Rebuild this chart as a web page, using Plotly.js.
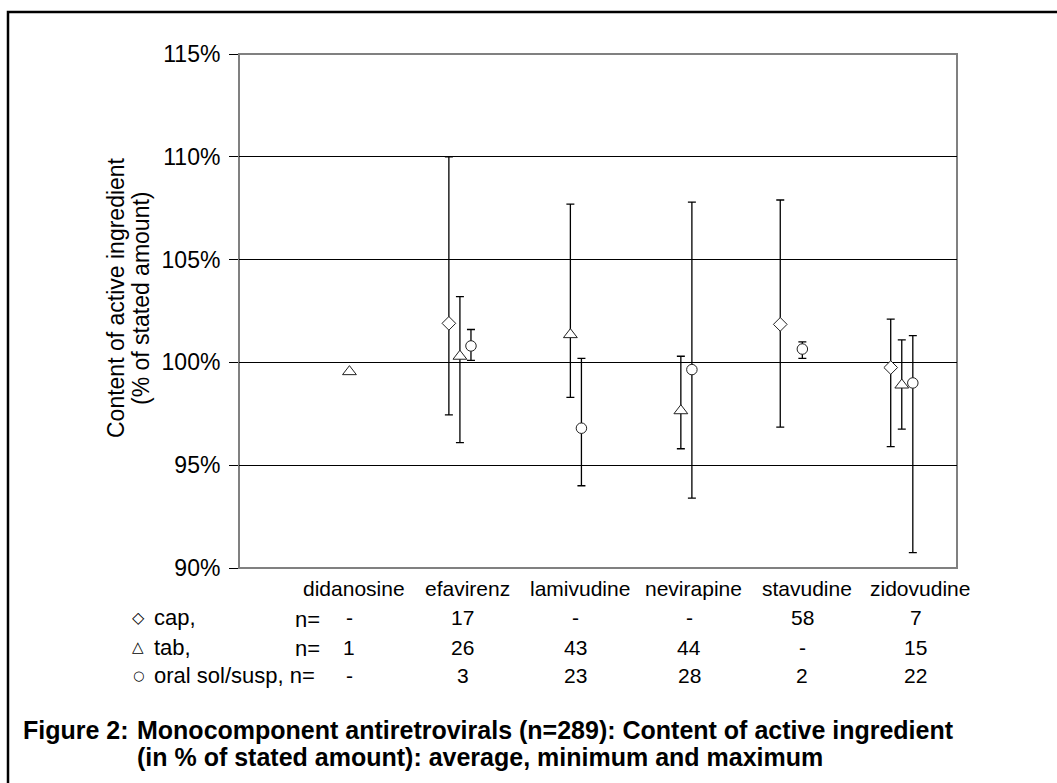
<!DOCTYPE html>
<html>
<head>
<meta charset="utf-8">
<script src="https://cdn.plot.ly/plotly-3.0.1.min.js"></script>
<style>html,body{margin:0;padding:0;background:#fff;}#chart{width:1057px;height:783px;}</style>
</head>
<body>
<div id="chart"></div>
<script>
// ---- data ----
const categories = ['didanosine', 'efavirenz', 'lamivudine', 'nevirapine', 'stavudine', 'zidovudine'];
const capMean  = [null, 101.9, null, null, 101.85, 99.75];
const capMin   = [null, 97.45, null, null, 96.85, 95.9];
const capMax   = [null, 110.0, null, null, 107.9, 102.1];
const tabMean  = [99.55, 100.3, 101.35, 97.65, null, 98.9];
const tabMin   = [99.55, 96.1, 98.3, 95.8, null, 96.75];
const tabMax   = [99.55, 103.2, 107.7, 100.3, null, 101.1];
const oralMean = [null, 100.8, 96.8, 99.65, 100.65, 99.0];
const oralMin  = [null, 100.1, 94.0, 93.4, 100.2, 90.75];
const oralMax  = [null, 101.6, 100.2, 107.8, 101.0, 101.3];
const capN  = ['-', '17', '-', '-', '58', '7'];
const tabN  = ['1', '26', '43', '44', '-', '15'];
const oralN = ['-', '3', '23', '28', '2', '22'];
const yTicks = [90, 95, 100, 105, 110, 115];

// ---- layout geometry ----
const W = 1057, H = 783;
const L = 239, R = 957, T = 54, B = 568;
const px = x => (x - L) / (R - L);
const py = y => (B - y) / (B - T);
const FONT = 'Arial, "Liberation Sans", sans-serif';

function mk(name, mean, mn, mx, offset, symbol, size) {
  return {
    type: 'scatter', mode: 'markers', name: name,
    x: categories.map((c, i) => i + offset), y: mean,
    marker: {symbol: symbol, size: size, color: '#ffffff', line: {color: '#222', width: 1}},
    error_y: {
      type: 'data', symmetric: false,
      array: mean.map((m, i) => m == null ? null : mx[i] - m),
      arrayminus: mean.map((m, i) => m == null ? null : m - mn[i]),
      color: '#000', thickness: 1.3, width: 4
    },
    hoverinfo: 'skip'
  };
}

const traces = [
  mk('cap', capMean, capMin, capMax, -0.1, 'diamond', 10.5),
  mk('tab', tabMean, tabMin, tabMax, 0, 'triangle-up', 12),
  mk('oral sol/susp', oralMean, oralMin, oralMax, 0.1, 'circle', 10.5)
];

const ann = [];
const tf = {family: FONT, size: 21, color: '#000'};
const lf = {family: FONT, size: 22, color: '#000'};
const colScale = 1.025;
const rowsY = [588, 617, 647, 675];
function a(obj) { ann.push(Object.assign({showarrow: false, yanchor: 'middle'}, obj)); }
categories.forEach((c, i) => {
  a({x: i * colScale + 0.04, xref: 'x', y: py(rowsY[0]), yref: 'paper', text: c, font: tf, xanchor: 'center'});
  a({x: i * colScale, xref: 'x', y: py(rowsY[1]), yref: 'paper', text: capN[i], font: tf, xanchor: 'center'});
  a({x: i * colScale, xref: 'x', y: py(rowsY[2]), yref: 'paper', text: tabN[i], font: tf, xanchor: 'center'});
  a({x: i * colScale, xref: 'x', y: py(rowsY[3]), yref: 'paper', text: oralN[i], font: tf, xanchor: 'center'});
});
// row labels
const symF = {family: '"DejaVu Sans", sans-serif', size: 16, color: '#000'};
a({x: px(138), xref: 'paper', y: py(rowsY[1]), yref: 'paper', text: '\u25C7', font: symF, xanchor: 'center'});
a({x: px(138), xref: 'paper', y: py(rowsY[2]), yref: 'paper', text: '\u25B3', font: Object.assign({}, symF, {size: 15}), xanchor: 'center'});
a({x: px(138), xref: 'paper', y: py(rowsY[3]), yref: 'paper', text: '\u25CB', font: Object.assign({}, symF, {size: 13}), xanchor: 'center'});
a({x: px(152), xref: 'paper', y: py(rowsY[1]), yref: 'paper', text: 'cap,', font: lf, xanchor: 'left'});
a({x: px(152), xref: 'paper', y: py(rowsY[2]), yref: 'paper', text: 'tab,', font: lf, xanchor: 'left'});
a({x: px(152), xref: 'paper', y: py(rowsY[3]), yref: 'paper', text: 'oral sol/susp, n=', font: lf, xanchor: 'left'});
a({x: px(307), xref: 'paper', y: py(rowsY[1] + 2), yref: 'paper', text: 'n=', font: lf, xanchor: 'center'});
a({x: px(307), xref: 'paper', y: py(rowsY[2] + 2), yref: 'paper', text: 'n=', font: lf, xanchor: 'center'});
// y-axis title (two lines)
const yf = {family: FONT, size: 23, color: '#000'};
a({x: px(116), xref: 'paper', y: py(298), yref: 'paper', text: 'Content of active ingredient', textangle: -90, font: yf, xanchor: 'center'});
a({x: px(141), xref: 'paper', y: py(298), yref: 'paper', text: '(% of stated amount)', textangle: -90, font: yf, xanchor: 'center'});
// caption
const cf = {family: FONT, size: 25, color: '#000'};
a({x: px(21), xref: 'paper', y: py(730), yref: 'paper', text: '<b>Figure 2:</b>', font: cf, xanchor: 'left'});
a({x: px(135), xref: 'paper', y: py(730), yref: 'paper', text: '<b>Monocomponent antiretrovirals (n=289): Content of active ingredient</b>', font: cf, xanchor: 'left'});
a({x: px(135), xref: 'paper', y: py(757), yref: 'paper', text: '<b>(in % of stated amount): average, minimum and maximum</b>', font: cf, xanchor: 'left'});

const shapes = [
  {type: 'rect', xref: 'paper', yref: 'paper', x0: 0, x1: 1, y0: 0, y1: 1, line: {color: '#808080', width: 2}, layer: 'below'},
  {type: 'rect', xref: 'paper', yref: 'paper', x0: px(8), x1: px(1070), y0: py(800), y1: py(12), line: {color: '#000', width: 2.5}, layer: 'above'}
];

const layout = {
  width: W, height: H,
  margin: {l: L, r: W - R, t: T, b: H - B, pad: 0},
  paper_bgcolor: '#ffffff', plot_bgcolor: '#ffffff',
  showlegend: false,
  font: {family: FONT, size: 20, color: '#000'},
  xaxis: {range: [-1, 5.5], showgrid: false, zeroline: false, showticklabels: false, ticks: '', showline: false, fixedrange: true},
  yaxis: {
    range: [90, 115], tickvals: yTicks, ticktext: yTicks.map(v => v + '%'),
    showgrid: true, gridcolor: '#000', gridwidth: 1, zeroline: false,
    showline: true, linecolor: '#808080', linewidth: 1,
    ticks: 'outside', ticklen: 9, tickcolor: '#000', tickwidth: 1,
    ticklabelstandoff: 4,
    tickfont: {family: FONT, size: 23, color: '#000'}, fixedrange: true
  },
  annotations: ann,
  shapes: shapes
};

Plotly.newPlot('chart', traces, layout, {displayModeBar: false, staticPlot: true});
</script>
</body>
</html>
